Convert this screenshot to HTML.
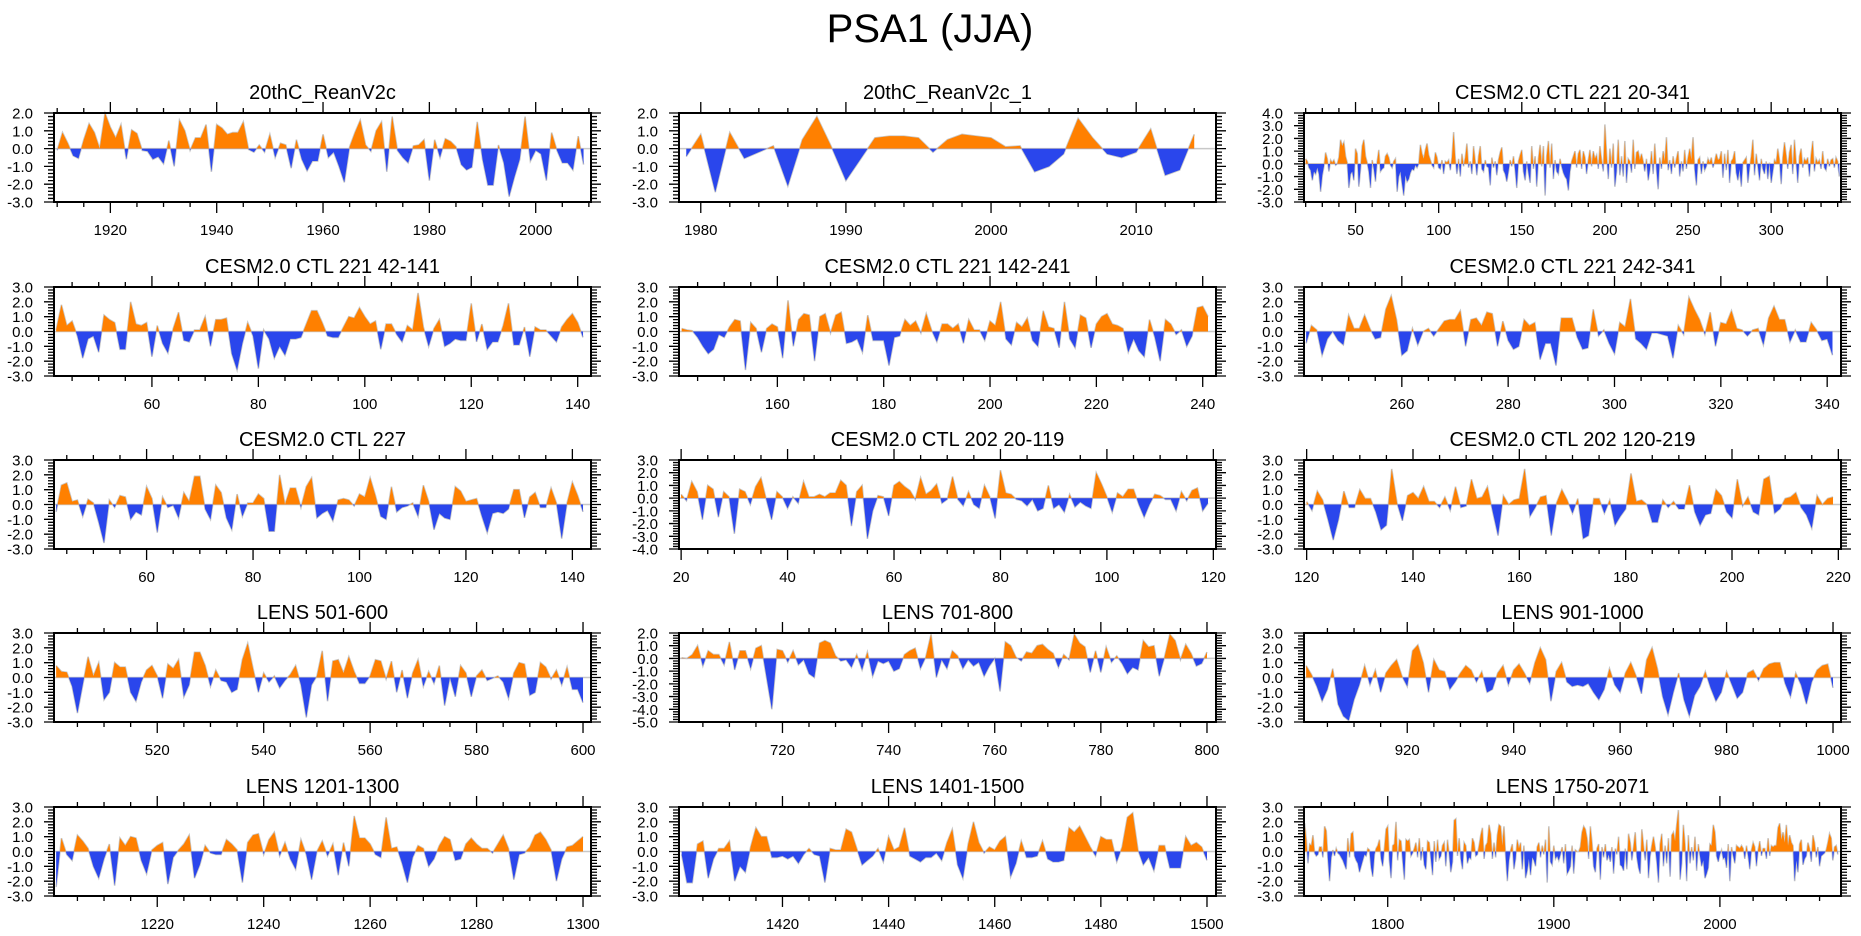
<!DOCTYPE html>
<html><head><meta charset="utf-8"><title>PSA1 (JJA)</title>
<style>
html,body{margin:0;padding:0;background:#fff;}
svg{display:block;font-family:"Liberation Sans",Arial,sans-serif;}
</style></head>
<body>
<svg id="fig" width="1861" height="936" viewBox="0 0 1861 936" xmlns="http://www.w3.org/2000/svg">
<rect x="0" y="0" width="1861" height="936" fill="#fff"/>
<text x="930" y="42" font-size="40" text-anchor="middle" fill="#000">PSA1 (JJA)</text>
</svg>
<script>
// ---------- data ----------
const startReanV2c = 1910;
const valsReanV2c = [-0.1,0.9,0.3,-0.4,-0.55,0.5,1.4,0.9,0.0,2.0,1.2,0.6,1.35,-0.6,1.05,0.85,-0.1,-0.15,-0.6,-0.45,-0.85,0.45,-1.0,1.6,1.0,-0.1,0.6,0.6,1.35,-1.3,1.35,1.15,0.8,0.9,0.9,1.5,-0.05,-0.2,0.2,-0.2,0.8,-0.5,0.3,0.2,-1.1,0.5,-0.6,-1.25,-0.7,-0.7,0.8,-0.5,-0.2,-1.0,-1.9,0.1,0.9,1.6,0.2,-0.15,1.0,1.5,-1.3,1.8,-0.1,-0.5,-0.8,0.15,0.2,0.5,-1.8,0.5,-0.5,0.55,0.4,0.1,-0.9,-1.2,-1.05,1.5,-0.6,-2.05,-2.05,0.2,-0.8,-2.7,-1.6,-0.6,1.8,-0.7,-0.1,-0.3,-1.8,0.9,-0.1,-0.8,-0.8,-1.2,0.7,-0.9];
const startReanV2c1 = 1979;
const valsReanV2c1 = [-0.45,0.8,-2.45,0.9,-0.55,-0.2,0.15,-2.1,0.5,1.8,0.1,-1.8,-0.6,0.6,0.7,0.7,0.6,-0.2,0.5,0.8,0.7,0.6,0.1,0.15,-1.3,-1.0,-0.3,1.7,0.6,-0.3,-0.5,-0.2,1.1,-1.5,-1.2,0.8];
const start221full = 20;
const vals221full = [0.4,0.2,-0.3,-0.5,-1.3,-0.6,-0.8,-0.3,-0.8,-2.2,-0.9,-0.2,0.9,0.4,-0.6,0.3,0.1,0.3,-0.1,0.0,
0.5,1.9,1.4,1.7,0.6,0.1,-1.9,-0.8,-0.6,-1.3,1.2,0.8,-1.8,-0.4,1.4,1.9,0.6,0.1,-0.6,-1.9,
0.3,-0.4,-1.4,0.2,1.1,-0.6,-0.4,-0.3,0.6,0.8,0.5,-0.1,-0.3,0.2,0.4,-2.2,-1.0,-0.6,-1.6,-2.5,
-0.9,-1.4,-1.2,-0.7,-0.4,-0.5,-0.1,-0.3,0.0,1.5,0.8,0.4,1.1,1.6,0.7,0.3,-0.1,-0.3,0.9,0.5,-0.3,
-0.4,0.3,-0.8,0.2,0.1,0.3,-0.5,0.5,2.5,0.4,
-0.8,0.4,-1.0,0.8,-0.2,0.5,1.6,-0.3,0.2,-0.8,
1.4,0.2,-0.9,0.6,1.4,-0.4,-0.6,0.3,-0.2,-0.3,
-1.7,0.5,-0.3,0.2,-0.9,0.3,0.9,1.3,-0.5,-0.8,
-1.4,-0.6,0.3,-0.2,0.6,-0.5,-1.9,0.2,0.7,1.1,
-0.6,-1.3,0.2,-0.7,-1.5,1.4,-0.4,0.6,-1.8,0.4,
1.5,-0.2,1.4,-2.5,0.6,1.8,-0.3,1.6,-1.2,0.3,
-0.6,-0.8,0.4,-0.2,-0.7,-1.0,-1.2,-2.1,-0.6,0.2,
0.6,1.0,-0.3,0.8,1.1,-0.4,1.0,0.5,-0.8,0.3,
1.1,-0.2,1.0,0.4,0.7,-0.4,1.4,0.3,-0.6,3.1,
0.8,-1.2,1.2,-0.3,1.6,-1.8,-0.6,1.9,-0.9,0.6,
-1.0,1.8,-1.5,0.4,0.2,-0.7,1.9,-0.4,0.9,1.0,
0.3,0.8,0.2,-0.6,0.4,-1.3,-0.5,1.0,-0.8,1.6,
-0.4,-2.0,0.5,-0.4,1.0,0.2,2.1,-0.5,0.3,-0.8,
0.6,-0.3,0.4,1.0,-1.0,0.2,-0.6,1.1,-0.4,0.5,
1.2,0.3,2.1,-0.4,-1.7,0.3,0.5,-0.8,0.2,-0.5,
-0.2,0.4,0.1,0.5,-0.3,0.2,0.8,0.3,0.4,1.0,
-1.1,0.8,-0.5,1.1,-1.5,0.2,0.4,1.0,-0.7,-1.3,
-0.4,-1.8,0.1,0.3,0.5,-1.5,-0.3,0.6,1.9,-0.9,
0.8,-0.2,-1.3,0.4,-0.4,-0.8,0.2,-1.2,0.1,-1.5,
-0.6,0.3,0.1,1.2,0.3,-1.6,0.5,1.7,0.7,-0.4,
0.9,1.5,-0.8,1.9,0.2,-1.5,0.6,1.2,-0.3,0.4,
0.2,0.5,-1.0,0.7,1.8,-0.6,0.4,0.1,0.3,-0.4,
1.0,-0.3,-0.5,0.4,-0.2,0.3,0.4,-0.3,0.5,0.2,-1.0];
const start221a = 42;
const vals221a = [0.1,1.8,0.4,0.7,-0.3,-1.8,-0.5,-0.3,-1.4,1.1,0.8,0.6,-1.2,-1.2,2.0,0.5,0.4,0.6,-1.7,0.4,-0.8,-1.45,0.2,1.3,-0.6,-0.7,0.1,0.1,1.0,-1.0,0.8,0.8,0.9,-1.5,-2.6,-0.8,0.6,-0.3,-2.5,0.1,-0.5,-1.8,-1.0,-1.6,-0.5,-0.5,-0.4,0.5,1.4,1.4,0.6,-0.3,-0.4,-0.4,0.3,1.0,0.9,1.6,1.0,0.5,0.7,-1.2,0.5,0.5,-0.2,-0.7,0.4,0.1,2.6,0.3,-1.0,0.2,0.8,-1.0,-0.8,-0.5,-0.6,-0.6,1.9,-0.7,0.5,-1.2,-0.7,-0.7,0.4,1.9,-0.9,-0.9,0.3,-1.7,0.3,0.1,0.1,-0.3,-0.7,0.3,0.8,1.2,0.6,-0.4];
const start221b = 142;
const vals221b = [0.2,0.1,0.05,-0.4,-1.0,-1.5,-1.2,-0.2,-0.4,0.3,0.8,0.7,-2.6,0.6,0.2,-1.4,0.2,0.5,0.3,-1.8,2.1,-1.0,0.8,1.2,1.1,-2.0,1.0,1.2,-0.1,1.1,1.3,-0.8,-0.7,-0.5,-1.4,1.1,-0.6,-0.6,-0.6,-2.3,-0.4,-0.3,0.8,0.4,0.7,-0.1,1.2,0.1,-0.7,0.5,0.5,0.2,0.5,-0.8,0.8,0.1,0.1,-0.6,0.7,0.4,2.0,-0.5,-0.9,0.6,0.3,0.9,-0.6,-1.0,1.4,0.3,0.2,-1.1,2.0,-0.5,-1.1,1.1,0.9,-1.1,0.5,1.0,1.2,0.5,0.4,0.2,-1.4,-0.5,-1.3,-1.7,0.8,-0.4,-2.0,0.8,0.5,-0.2,0.1,-1.0,-0.3,1.6,1.7,1.0];
const start221c = 242;
const vals221c = [-0.8,0.4,0.1,-1.6,-0.5,0.0,-0.6,-0.9,1.1,0.2,0.2,1.1,0.2,-0.5,-0.4,1.5,2.4,0.8,-1.6,-1.3,0.2,-0.9,0.0,0.2,-0.3,0.2,0.7,0.8,0.8,1.4,-1.0,0.8,0.9,0.4,1.3,1.2,-1.0,0.7,-0.6,-1.2,-1.0,0.8,0.4,0.6,-1.9,-0.8,-0.8,-2.3,0.9,0.9,0.9,-0.4,-1.2,-1.1,1.5,-0.3,0.1,-0.8,-1.5,0.6,0.3,2.2,-0.5,-0.8,-1.2,-0.1,-0.1,-0.2,-0.3,-1.8,0.4,-0.2,2.3,1.5,0.8,-0.2,1.3,-1.0,0.6,0.5,1.4,0.2,0.1,-0.3,0.1,0.2,-0.9,0.9,1.7,0.8,0.8,-0.7,0.1,-0.7,-0.7,0.6,0.1,-0.6,-0.5,-1.6];
const start227 = 43;
const vals227 = [-0.5,1.3,1.45,0.2,0.3,-0.8,0.35,0.1,-1.2,-2.6,0.3,-0.2,0.6,0.5,-1.0,-0.5,-0.7,1.2,0.4,-1.9,0.5,-0.2,-0.05,-0.9,0.8,0.2,1.9,1.9,-0.3,-1.0,1.3,0.8,-0.9,-1.7,0.7,-0.8,0.1,0.1,0.7,0.4,-1.8,-1.8,2.0,0.0,1.1,1.1,-0.2,1.2,1.8,-0.9,-0.6,-0.4,-1.1,0.3,0.4,0.3,-0.1,0.7,0.5,1.8,0.6,-0.8,-1.0,1.2,-0.5,-0.2,-0.1,0.1,-0.8,1.3,0.2,-1.7,-0.6,-0.9,-1.0,1.2,0.9,0.2,0.3,0.4,-0.8,-1.9,-0.6,-0.5,-0.6,-0.3,1.0,1.0,-0.9,0.5,0.8,-0.2,-0.2,1.1,0.1,-2.3,0.1,1.5,0.6,-0.5];
const start202a = 20;
const vals202a = [0.3,-0.2,1.3,0.5,-1.7,1.0,0.7,-1.5,0.5,0.1,-2.8,0.7,0.5,-0.5,0.9,1.6,-0.1,-1.7,0.5,0.1,-0.8,0.1,-0.4,1.3,0.1,0.1,0.3,0.1,0.4,0.4,1.4,1.0,-2.2,0.5,1.0,-3.2,-1.0,0.2,0.1,-1.4,1.0,1.3,0.9,0.6,-0.1,1.6,0.3,0.6,1.1,-0.4,-0.1,1.7,-0.1,-0.6,0.5,-0.5,-0.8,1.0,0.1,-1.6,2.2,0.4,0.3,-0.1,-0.2,-0.6,-0.1,-1.0,-0.8,1.0,-0.8,-0.5,-1.1,0.3,-0.7,-0.3,-0.6,-0.8,2.0,1.1,0.1,-1.1,0.4,0.1,0.7,0.7,-0.5,-1.5,-0.5,0.3,0.2,-0.1,-0.1,-1.0,0.5,-0.2,0.6,0.8,-1.0,-0.4];
const start202b = 120;
const vals202b = [0.2,-0.4,0.9,0.3,-1.0,-2.4,-1.0,0.9,-0.2,-0.2,1.0,0.4,0.4,-0.5,-1.7,-1.4,2.4,0.1,-1.1,0.6,0.8,0.4,1.2,0.2,0.2,-0.2,0.5,-0.4,1.2,-0.2,-0.1,1.7,0.4,0.5,1.2,-0.5,-2.1,0.6,0.0,0.3,0.4,2.4,-0.8,-0.2,0.5,0.6,-2.1,0.1,1.0,0.3,-0.6,0.4,-2.3,-2.1,0.4,0.4,-0.6,0.3,-1.4,-0.8,-0.3,2.1,0.2,0.3,0.0,-1.2,-1.2,0.3,-0.2,0.2,-0.3,-0.3,1.3,-0.5,-1.4,-0.7,-0.6,1.0,0.6,-0.5,-0.9,1.7,-0.1,0.5,-0.5,-0.7,1.7,1.9,-0.6,-0.3,0.4,0.5,0.8,-0.2,-0.7,-1.6,0.6,0.0,0.4,0.5];
const start501 = 501;
const vals501 = [0.8,0.4,0.35,-0.6,-2.4,-0.5,1.4,0.1,1.0,-1.5,-1.0,1.0,0.7,0.7,-1.0,-1.6,-0.3,0.5,0.8,0.1,-1.4,0.9,0.6,1.2,-1.3,-0.5,1.7,1.7,0.8,-0.6,0.5,-0.2,-0.3,-1.0,-0.8,1.2,2.3,0.6,-1.0,0.3,-0.3,0.1,-0.7,-0.2,0.2,0.8,-0.5,-2.7,-0.5,0.1,1.8,-1.6,1.1,1.2,0.3,1.4,0.4,-0.4,-0.4,0.1,1.2,1.1,-0.1,1.1,-1.0,0.5,-1.4,0.3,1.2,-0.6,0.4,-0.4,0.8,-1.9,0.0,-1.3,0.8,0.3,-1.3,0.1,0.5,-0.2,-0.05,0.1,-0.3,-1.4,0.3,1.0,0.9,-1.2,-1.0,1.0,0.7,-0.1,0.5,-0.5,0.7,-0.8,-0.8,-1.7];
const start701 = 701;
const vals701 = [0.05,0.0,0.3,1.0,-0.6,0.6,0.3,0.3,-0.5,1.3,-0.9,0.6,0.6,-0.8,0.8,1.0,-1.5,-4.0,0.7,0.6,-0.3,0.6,-0.5,-0.1,-1.2,-1.5,1.2,1.4,1.2,0.2,-0.2,-0.1,-0.7,0.3,-0.9,0.5,-1.4,-0.2,-0.4,-0.2,-1.0,-0.8,0.3,0.6,0.8,-0.8,0.1,1.9,-1.5,-0.1,-0.8,0.6,0.2,-0.8,-0.1,-0.6,-0.3,-1.4,-0.6,0.0,-2.6,1.3,1.0,0.1,-0.2,0.5,0.4,1.0,1.1,0.7,0.4,-0.7,0.3,-0.1,1.9,1.2,0.9,-1.1,0.6,-1.1,0.9,-0.3,0.2,-0.4,-1.2,-0.7,-0.9,1.4,0.9,1.0,-1.4,0.1,1.9,1.4,-0.1,1.1,0.4,-0.6,-0.4,0.5];
const start901 = 901;
const vals901 = [0.8,0.2,-0.6,-1.6,-0.8,0.6,-1.8,-2.6,-2.9,-1.5,-0.5,0.8,-0.5,0.5,-1.0,0.3,0.8,1.2,0.1,-0.6,1.8,2.2,1.0,-1.0,1.2,0.5,0.4,-0.8,-0.3,0.3,0.8,0.5,-0.3,0.4,-1.0,-0.8,0.3,0.8,-0.5,0.5,0.9,0.3,-0.4,1.0,2.0,1.2,-1.6,0.4,1.0,-0.3,-0.6,-0.5,-0.6,-0.4,-1.0,-1.5,-0.8,0.6,-0.5,-1.0,0.3,1.0,0.1,-1.1,1.2,2.0,0.6,-1.3,-2.5,-1.0,0.3,-1.5,-2.6,-1.2,-0.6,0.4,-0.7,-1.6,-1.0,0.4,-0.5,-1.4,-1.0,0.3,0.5,-0.2,0.6,0.9,1.0,1.0,-0.4,-1.3,0.3,-0.5,-1.8,-0.3,0.5,0.8,0.9,-0.7];
const start1201 = 1201;
const vals1201 = [-2.4,0.9,-0.2,-0.6,1.1,0.7,0.2,-1.0,-1.8,-0.5,0.5,-2.3,0.9,0.4,1.0,0.9,-0.6,-1.5,0.1,0.4,0.6,-2.2,-0.4,0.1,0.5,1.1,-1.8,-0.9,0.4,-0.1,-0.2,-0.2,0.8,0.5,0.1,-2.1,0.6,1.1,1.2,-0.2,0.8,1.3,-0.3,0.6,-0.5,-1.2,0.8,-0.2,-1.9,0.0,0.7,-0.3,0.5,-1.6,0.6,-1.0,2.4,0.9,0.9,0.5,-0.2,-0.4,2.3,0.2,0.3,-0.8,-2.1,-0.4,0.4,0.2,-1.0,-0.5,0.4,1.0,0.8,-0.6,-0.5,0.5,0.9,0.5,0.2,0.2,-0.1,0.5,1.1,0.2,-1.9,-0.2,-0.1,0.3,1.1,1.3,0.8,0.1,-2.0,-0.5,0.3,0.4,0.7,1.0];
const start1401 = 1401;
const vals1401 = [-0.2,-2.1,-2.1,0.5,0.7,-1.8,-0.5,0.2,0.2,0.7,-2.0,-1.0,-1.4,0.3,1.6,1.0,1.0,-0.4,-0.4,-0.3,-0.5,-0.3,-0.8,-0.2,0.2,-0.2,-0.3,-2.1,0.2,0.1,0.1,1.5,1.3,0.2,-0.9,-0.6,-0.3,0.2,-0.7,1.0,0.1,0.3,1.6,-0.3,-0.5,-0.7,-0.4,-0.4,-0.1,-0.6,0.6,1.5,-0.9,-1.8,0.5,2.0,0.6,-0.1,0.3,0.1,0.7,1.0,-1.7,-0.8,0.7,-0.4,-0.4,-0.3,0.7,-0.5,-0.7,-0.7,-0.6,1.6,1.3,1.7,1.0,0.3,-0.3,1.0,0.8,0.8,-0.7,0.3,2.3,2.6,0.1,-0.9,-0.4,-1.3,0.4,0.4,-1.1,-1.1,-1.1,1.0,0.4,0.6,0.3,-0.6];
const start1750 = 1750;
const vals1750 = [1.9,0.8,-0.8,0.5,0.4,1.1,-0.1,-0.3,-0.2,0.3,
0.3,-0.4,1.7,1.4,-0.5,-2.0,-0.4,0.1,-0.3,0.2,
-0.1,-0.2,-0.4,-0.6,-0.9,-1.2,0.9,-0.4,1.2,1.3,
-0.3,-0.6,-0.8,-1.4,-1.0,-0.6,-0.2,-0.3,0.2,0.1,
-1.1,-1.7,-0.2,0.2,0.4,0.8,-0.5,-1.0,0.2,1.5,
1.7,-0.6,-1.8,0.4,0.5,2.0,-0.6,0.8,0.7,-0.6,
-1.9,0.8,0.7,0.8,-0.3,-0.1,0.2,0.6,-0.4,0.9,
-0.6,0.3,-0.9,-1.2,0.7,0.6,-0.5,-1.6,0.7,-0.7,
0.8,-0.5,-0.3,0.4,0.6,-1.0,0.8,-0.2,-1.4,-0.7,
2.1,2.2,-0.3,0.9,-0.5,-1.2,0.6,0.4,-0.8,-0.4,
-0.5,0.9,0.6,-0.3,-0.2,0.4,1.1,1.6,-0.5,0.4,
0.6,1.8,1.2,-0.5,0.6,-0.4,1.1,1.8,1.7,0.4,
1.7,-0.3,-2.0,-0.6,0.1,0.5,-1.2,-0.5,0.8,0.2,
0.6,-1.2,0.4,-1.8,-1.3,-0.5,-1.6,-0.4,-0.6,-1.0,
0.3,0.6,-0.4,0.4,-0.2,0.8,-2.1,1.7,-0.7,-0.9,
0.4,-0.5,-0.3,-0.6,-0.2,0.3,-0.8,0.5,-1.5,-1.3,
-1.0,0.4,-1.5,0.1,0.0,0.0,0.3,1.3,1.7,1.5,
0.9,-0.5,1.7,0.6,-1.0,-1.4,0.2,0.5,-1.9,0.3,
-0.4,0.5,-0.6,-0.2,-0.7,0.3,-1.5,0.2,-0.2,1.0,
-0.9,-1.0,-1.3,0.2,-1.2,1.2,0.6,-0.6,0.3,1.3,
-0.4,-1.1,-1.5,1.5,0.4,-0.6,0.8,-1.8,-0.3,0.4,
1.0,0.3,-0.7,-2.1,0.5,1.2,-1.0,0.4,-0.8,0.9,
-1.7,1.1,1.3,0.7,1.8,2.8,-1.9,-0.8,1.8,0.5,
-2.0,1.1,-0.8,0.3,-0.6,1.0,-1.3,0.5,-0.3,-1.0,
-0.6,-1.8,-1.5,-1.1,0.5,0.4,1.8,1.3,-0.3,-0.7,
-0.2,0.1,-0.5,-0.4,-1.1,0.5,-2.0,0.3,-0.3,-0.8,
0.4,0.3,0.2,0.4,0.2,-0.5,0.4,-0.3,-1.2,0.1,
0.6,0.3,-1.0,0.1,0.7,-0.3,0.2,0.2,-0.5,0.9,
-0.3,0.4,0.3,0.4,0.4,1.6,1.9,0.8,1.3,0.6,
1.8,0.4,1.1,0.6,0.4,-2.0,-0.6,-1.4,0.5,0.8,
-0.9,-0.5,-0.3,0.6,0.2,-0.7,1.1,0.6,-0.4,0.3,
-1.0,-0.3,-0.2,-0.1,0.1,0.6,1.2,0.9,-0.6,0.3,
0.4,-0.2];

// ---------- panel titles ----------
const panelTitles = ["20thC_ReanV2c","20thC_ReanV2c_1","CESM2.0 CTL 221 20-341",
"CESM2.0 CTL 221 42-141","CESM2.0 CTL 221 142-241","CESM2.0 CTL 221 242-341",
"CESM2.0 CTL 227","CESM2.0 CTL 202 20-119","CESM2.0 CTL 202 120-219",
"LENS 501-600","LENS 701-800","LENS 901-1000",
"LENS 1201-1300","LENS 1401-1500","LENS 1750-2071"];
const panelStarts = [startReanV2c,startReanV2c1,start221full,start221a,start221b,start221c,start227,start202a,start202b,start501,start701,start901,start1201,start1401,start1750];
const panelVals = [valsReanV2c,valsReanV2c1,vals221full,vals221a,vals221b,vals221c,vals227,vals202a,vals202b,vals501,vals701,vals901,vals1201,vals1401,vals1750];
const yMins = [-3,-3,-3,-3,-3,-3,-3,-4,-3,-3,-5,-3,-3,-3,-3];
const yMaxs = [2,2,4,3,3,3,3,3,3,3,2,3,3,3,3];
const xMajor = [20,10,50,20,20,20,20,20,20,20,20,20,20,20,100];
const xMinor = [5,2,10,5,5,5,5,5,5,5,5,5,5,5,20];
// axis extents (x units) - padding around data
const xLo = [1909.4,1978.5,19,41.6,141.5,241.6,42.6,19.6,119.5,500.6,700.5,900.6,1200.6,1400.5,1749.6];
const xHi = [2010.4,2015.5,342,142.5,242.5,342.6,143.5,120.5,220.5,601.5,801.7,1001.5,1301.5,1501.7,2072.9];

// ---------- layout ----------
const colL = [54,679,1304], colW = 537;
const rowT = [113,287,460,633,807], rowH = 89;
const ORANGE = "#ff8000", BLUE = "#2a46ec", GREY = "#c8c8c8";
const NS = "http://www.w3.org/2000/svg";
const svg = document.getElementById('fig');
function mk(tag, attrs, parent){
  const e = document.createElementNS(NS, tag);
  for (const k in attrs) e.setAttribute(k, attrs[k]);
  (parent||svg).appendChild(e);
  return e;
}
const defs = mk('defs',{});

for (let p = 0; p < 15; p++){
  const L = colL[p%3], T = rowT[Math.floor(p/3)], R = L+colW, B = T+rowH;
  const ymin = yMins[p], ymax = yMaxs[p];
  const sx = v => L + (v - xLo[p]) / (xHi[p]-xLo[p]) * colW;
  const sy = v => B - (v - ymin) / (ymax-ymin) * rowH;
  const g = mk('g',{});
  
  

  const title = mk('text',{x:(L+R)/2, y:T-14, 'font-size':20, 'text-anchor':'middle', fill:'#000'}, g);
  title.textContent = panelTitles[p];
  
  

  // clip paths above / below zero
  const y0 = sy(0);
  const cpA = mk('clipPath',{id:'ca'+p}, defs);
  mk('rect',{x:L, y:T, width:colW, height:y0-T}, cpA);
  const cpB = mk('clipPath',{id:'cb'+p}, defs);
  mk('rect',{x:L, y:y0, width:colW, height:B-y0}, cpB);

  const vals = panelVals[p], st = panelStarts[p];
  let line = '';
  for (let i = 0; i < vals.length; i++){
    line += (i ? 'L' : 'M') + sx(st+i).toFixed(2) + ',' + sy(vals[i]).toFixed(2);
  }
  const area = line + 'L' + sx(st+vals.length-1).toFixed(2) + ',' + y0.toFixed(2) + 'L' + sx(st).toFixed(2) + ',' + y0.toFixed(2) + 'Z';

  const zl = mk('line',{x1:L, x2:R, y1:y0, y2:y0, stroke:GREY, 'stroke-width':1.5}, g);
  
  
  const gl = mk('path',{d:line, fill:'none', stroke:GREY, 'stroke-width':1.6}, g);
  
  
  const pos = mk('path',{d:area, fill:ORANGE, 'clip-path':'url(#ca'+p+')'}, g);
  
  
  const neg = mk('path',{d:area, fill:BLUE, 'clip-path':'url(#cb'+p+')'}, g);
  
  

  // ticks
  let tk = '';
  for (let v = ymin; v <= ymax + 1e-9; v += 0.2){
    const y = sy(v), major = Math.abs(v - Math.round(v)) < 1e-6;
    const len = major ? 10 : 6;
    tk += 'M'+L+','+y.toFixed(2)+'h'+(-len)+'M'+R+','+y.toFixed(2)+'h'+len;
  }
  const mn = xMinor[p], mj = xMajor[p];
  for (let v = Math.ceil(xLo[p]/mn)*mn; v <= xHi[p]; v += mn){
    const x = sx(v), major = (v % mj) === 0;
    const len = major ? 11 : 5;
    tk += 'M'+x.toFixed(2)+','+B+'v'+len+'M'+x.toFixed(2)+','+T+'v'+(-len);
  }
  const ticks = mk('path',{d:tk, stroke:'#000', 'stroke-width':1.3, fill:'none'}, g);
  
  

  const frame = mk('rect',{x:L, y:T, width:colW, height:rowH, fill:'none', stroke:'#000', 'stroke-width':2}, g);
  
  

  for (let v = ymin; v <= ymax; v++){
    const t = mk('text',{x:L-21, y:sy(v)+5.5, 'font-size':15, 'text-anchor':'end', fill:'#000'}, g);
    t.textContent = v.toFixed(1);
    
    
  }
  for (let v = Math.ceil(xLo[p]/mj)*mj; v <= xHi[p]; v += mj){
    const t = mk('text',{x:sx(v), y:B+33, 'font-size':15, 'text-anchor':'middle', fill:'#000'}, g);
    t.textContent = String(v);
    
    
  }
}
</script>
</body></html>
